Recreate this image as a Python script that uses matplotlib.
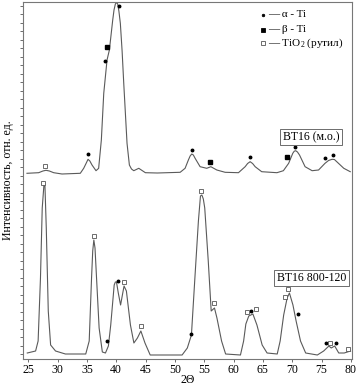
import matplotlib
matplotlib.use("Agg")
import matplotlib.pyplot as plt
import numpy as np

plt.rcParams['font.family'] = ['Liberation Serif', 'DejaVu Serif']
plt.rcParams['mathtext.fontset'] = 'custom'
plt.rcParams['mathtext.rm'] = 'Liberation Serif'

# --- data: 2Theta and intensity (arb. units) ---
top_2theta = [24.78, 26.77, 27.5, 28.02, 28.6, 29.33, 30.75, 33.87, 34.45, 34.85, 35.19, 35.5,
              35.87, 36.55, 37.0, 37.46, 37.87, 38.43, 38.83, 39.4, 39.62, 39.85, 40.05, 40.25,
              40.45, 40.7, 41.0, 41.28, 41.84, 42.24, 42.6, 42.99, 43.84, 44.97, 47.0, 50.9,
              51.74, 52.3, 52.6, 52.87, 53.15, 53.45, 54.3, 55.43, 56.13, 57.15, 58.57, 60.84,
              61.98, 62.4, 62.83, 63.25, 63.69, 64.8, 67.4, 68.5, 69.4, 70.1, 70.35, 70.6,
              70.9, 71.25, 72.2, 73.4, 74.5, 75.6, 76.2, 76.8, 77.2, 77.6, 78.8, 79.9]
top_int = [185.7, 186.3, 188.0, 188.7, 188.0, 186.3, 185.0, 185.7, 190.7, 195.5, 199.7, 198.0,
           194.0, 188.3, 190.7, 219.0, 265.7, 299.0, 309.0, 339.0, 349.0, 355.0, 356.5, 355.0,
           348.0, 335.7, 308.0, 275.7, 215.7, 194.0, 190.0, 188.3, 190.7, 186.3, 186.0, 186.7,
           190.7, 199.0, 203.0, 205.0, 204.0, 200.7, 192.3, 190.7, 192.3, 189.0, 186.7, 186.3,
           192.3, 195.5, 197.3, 195.5, 192.3, 187.3, 186.3, 188.3, 195.7, 205.7, 207.8, 208.3,
           207.0, 204.0, 192.3, 188.3, 189.0, 195.7, 198.5, 199.7, 199.5, 197.3, 190.7, 187.3]

bot_2theta = [24.83, 26.25, 26.68, 27.08, 27.38, 27.67, 27.84, 28.07, 28.41, 28.81, 29.65, 31.33,
              34.8, 35.39, 35.79, 35.99, 36.18, 36.38, 36.58, 37.08, 37.63, 38.16, 38.66, 39.06,
              39.65, 39.85, 40.04, 40.35, 40.74, 41.05, 41.33, 41.73, 42.42, 43.01, 43.61, 44.2,
              44.9, 45.79, 49.55, 51.23, 52.12, 52.82, 53.41, 54.01, 54.36, 54.6, 54.85, 55.09,
              55.69, 56.19, 56.75, 57.17, 57.96, 58.65, 61.18, 61.72, 62.1, 62.6, 63.3, 63.99,
              64.88, 65.72, 67.45, 67.95, 68.55, 69.14, 69.53, 70.13, 70.67, 71.42, 72.3, 74.29,
              75.37, 76.26, 76.66, 77.25, 77.94, 78.87, 79.95]
bot_int = [6, 8, 18, 81, 151, 174, 174, 131, 48, 14, 8, 5,
           5, 18, 81, 108, 119, 111, 88, 31, 7, 6, 13, 34,
           74, 77, 77, 66, 54, 64, 73, 68, 34, 16, 21, 28,
           16, 4, 4, 4, 11, 24, 81, 138, 163, 164, 160, 151,
           98, 48, 51, 41, 18, 5, 4, 18, 35, 43, 45, 34,
           14, 6, 5, 18, 44, 61, 66, 54, 38, 18, 6, 4,
           8, 13, 11, 13, 6, 6, 8]

# phase markers: (2Theta, height)
alpha_x = [35.24, 38.09, 40.5, 52.88, 62.83, 70.5, 75.6, 77.0,
           38.48, 40.26, 52.71, 62.95, 70.97, 75.8, 77.46]
alpha_y = [204.7, 298.3, 353, 209, 201.7, 212.3, 200.7, 204,
           18.3, 78, 25, 48, 45, 16.3, 16.3]
beta_x = [38.48, 56.04, 69.2]
beta_y = [311.7, 196.7, 202.3]
rutile_x = [27.85, 27.56, 36.26, 41.33, 44.23, 54.47, 56.74, 62.27, 63.8, 68.8, 69.37, 76.49, 79.5]
rutile_y = [193.3, 175.7, 123, 77.3, 33.3, 168, 56.3, 46.7, 49.7, 61.7, 69.7, 15.7, 10]

x_ticks = [25, 30, 35, 40, 45, 50, 55, 60, 65, 70, 75, 80]

fig = plt.figure(figsize=(3.59, 3.86), dpi=100)
ax = fig.add_axes([22.7/359, 27/386, 329.3/359, 357/386])

line_c = '#5a5a5a'
ax.plot(top_2theta, top_int, color=line_c, lw=0.8)
ax.plot(bot_2theta, bot_int, color=line_c, lw=0.8)

ax.plot(alpha_x, alpha_y, 'o', ms=1.8, color='black', mec='black', ls='none')
ax.plot(beta_x, beta_y, 's', ms=2.2, color='black', mec='black', ls='none')
ax.plot(rutile_x, rutile_y, 's', ms=2.8, mfc='white', mec='#555555', mew=0.6, ls='none')

ax.set_xlim(24.05, 80.2)
ax.set_ylim(0, 357)
ax.set_xticks(x_ticks)
ax.set_xticklabels([str(t) for t in x_ticks], fontsize=8.5)
ax.set_yticks(np.arange(5, 357, 8.5))
ax.set_yticklabels([])
ax.tick_params(axis='both', direction='out', length=2, width=0.6, color='#555555', pad=1.5)
for s in ax.spines.values():
    s.set_color('#777777')
    s.set_linewidth(0.8)

ax.set_xlabel('2Θ', fontsize=8.5, labelpad=-1.5)
ax.set_ylabel('Интенсивность, отн. ед.', fontsize=8.5, labelpad=3)

# legend
tr = ax.transAxes
leg_rows = [(0.9636, 'o', 1.8, 'black', '— α - Ti'),
            (0.9216, 's', 2.2, 'black', '— β - Ti'),
            (0.8852, 's', 2.8, 'white', '— TiO$_2$ (рутил)')]
for yy, mk, ms, fc, txt in leg_rows:
    ax.plot([0.730], [yy], marker=mk, ms=ms, mfc=fc, mec='black' if fc == 'black' else '#555555',
            mew=0.6, transform=tr, ls='none')
    ax.text(0.745, yy, txt, transform=tr, fontsize=8, va='center', ha='left')

box = dict(boxstyle='square,pad=0.2', fc='white', ec='#555555', lw=0.6)
ax.text(0.8755, 0.622, 'ВТ16 (м.о.)', transform=tr, fontsize=8.5, ha='center', va='center', bbox=box)
ax.text(0.877, 0.227, 'ВТ16 800-120', transform=tr, fontsize=8.5, ha='center', va='center', bbox=box)

fig.savefig('out.png', dpi=100)
